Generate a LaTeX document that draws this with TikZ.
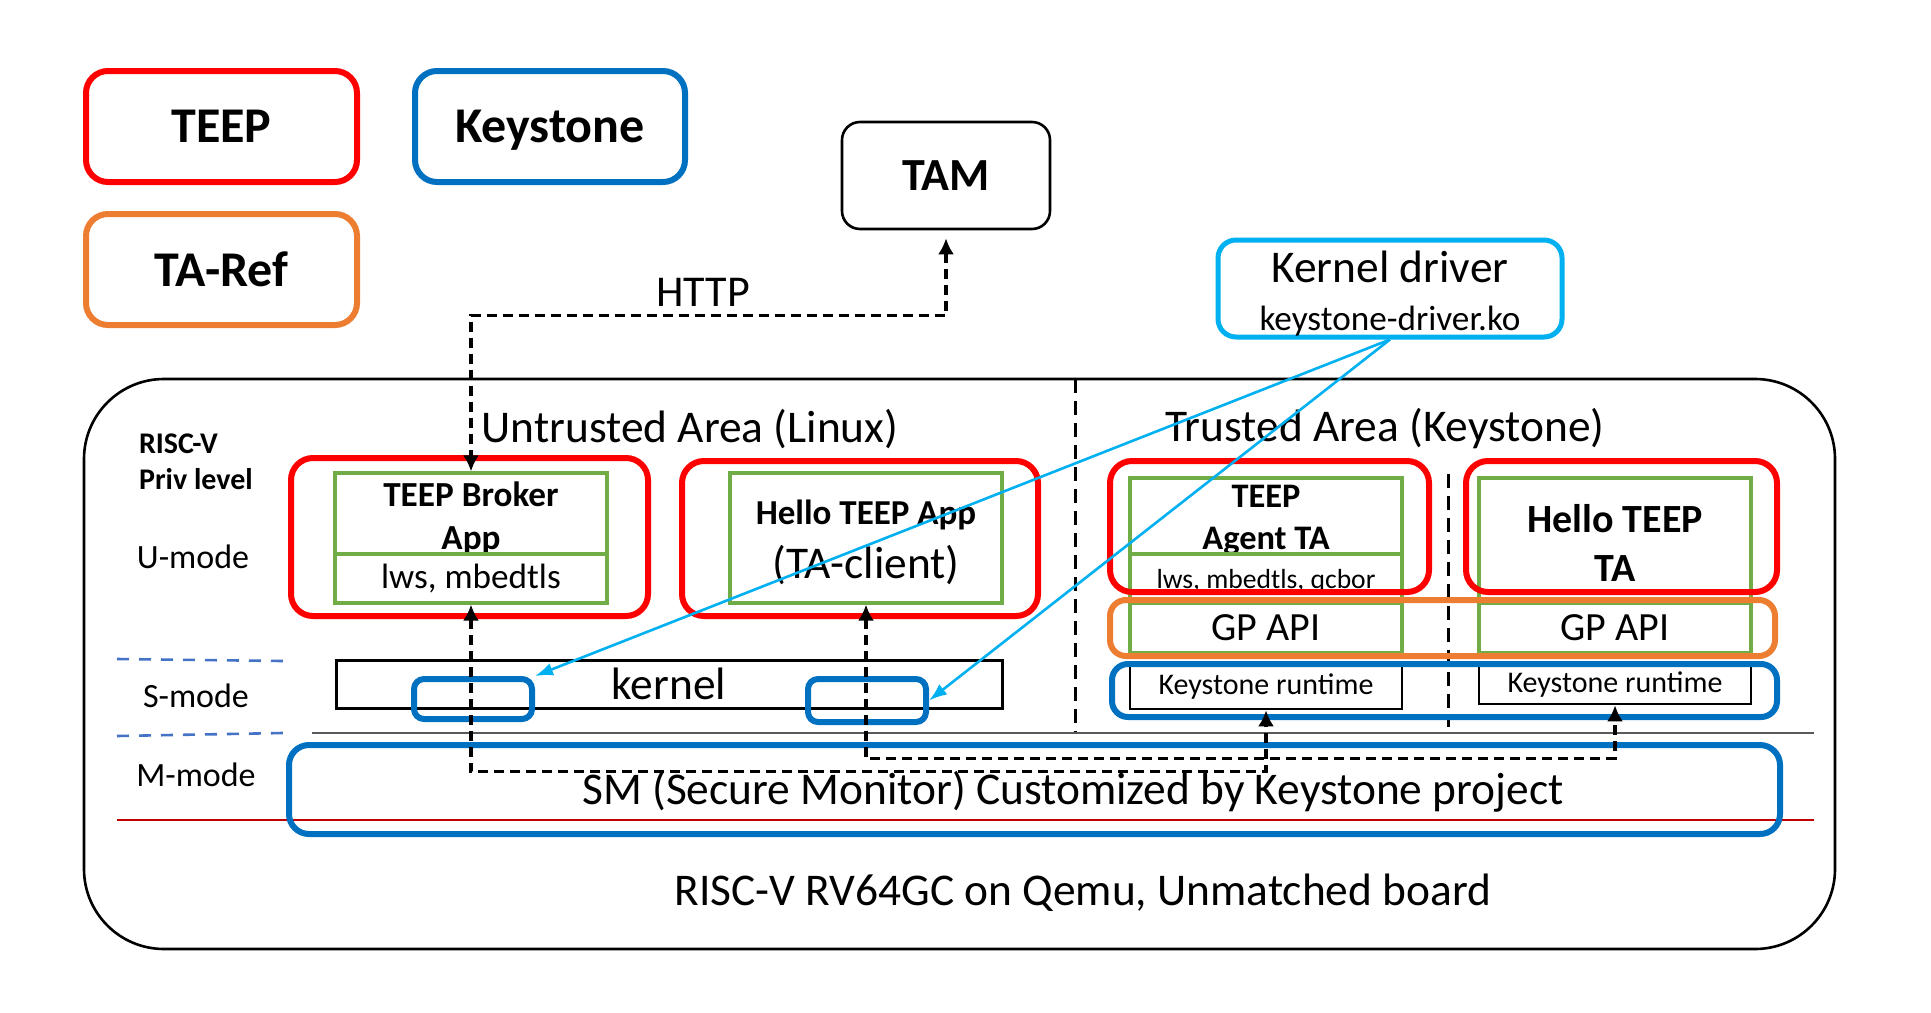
\documentclass[tikz,border=0pt]{standalone}
\usepackage{fontspec}
\setmainfont{Carlito}
\usepackage{tikz}
\usetikzlibrary{arrows.meta, fit}

\definecolor{teepred}{HTML}{FF0000}
\definecolor{ksblue}{HTML}{0070C0}
\definecolor{taorange}{HTML}{ED7D31}
\definecolor{libgreen}{HTML}{70AD47}
\definecolor{drvcyan}{HTML}{00B0F0}
\definecolor{lvlblue}{HTML}{4472C4}
\definecolor{lvlred}{HTML}{C00000}

\tikzset{
	box/.style={draw, inner sep=0pt},
	teepbox/.style={box, draw=teepred, line width=3pt, rounded corners=11pt},
	ksbox/.style={box, draw=ksblue, line width=3pt, rounded corners=8pt},
	refbox/.style={box, draw=taorange, line width=3pt, rounded corners=8pt},
	libbox/.style={box, draw=libgreen, line width=1.6pt},
	blkbox/.style={box, draw=black, line width=1.3pt},
	conn/.style={line width=1.6pt, dash pattern=on 5pt off 3pt, {Latex[length=8pt,width=8pt]}-{Latex[length=8pt,width=8pt]}},
	drvline/.style={drvcyan, line width=1.3pt, -{Latex[length=9pt,width=6.5pt]}},
	divider/.style={line width=1.5pt, dash pattern=on 7pt off 4pt},
	flegend/.style={font=\fontsize{25}{30}\selectfont\bfseries},
	fbig/.style={font=\fontsize{22.7}{27}\selectfont},
	fmid/.style={font=\fontsize{17.6}{22}\selectfont},
	fsmall/.style={font=\fontsize{15}{18}\selectfont},
	fmode/.style={font=\fontsize{17}{21}\selectfont},
}

\begin{document}
\begin{tikzpicture}[x=0.5pt, y=-0.5pt, font=\fontsize{22.7}{27}\selectfont]
	\useasboundingbox (0,0) rectangle (1931,1012);

	% legend
	\node[teepbox, fit={(86,71) (357,182)}, label={[flegend]center:TEEP}] (legteep) {};
	\node[ksbox, rounded corners=11pt, fit={(415,71) (685,182)}, label={[flegend, yshift=-2pt]center:Keystone}] (legks) {};
	\node[refbox, rounded corners=11pt, fit={(86,214) (357,325)}, label={[flegend]center:TA-Ref}] (legref) {};

	\node[blkbox, rounded corners=9pt, fit={(842,122) (1050,229)}, label={[font=\fontsize{23}{28}\selectfont\bfseries]center:TAM}] (tam) {};
	\node[box, draw=drvcyan, line width=2.5pt, rounded corners=9pt, fit={(1218,240) (1562,337)},
		label={[fbig, align=center, yshift=-2.5pt]center:{Kernel driver\\[-3pt]{\fontsize{17.6}{22}\selectfont keystone-driver.ko}}}] (kdrv) {};

	% board
	\node[box, line width=1.3pt, rounded corners=40pt, fit={(84,379) (1835,949)}] (board) {};
	\node[fbig] (untrusted) at (690,429) {Untrusted Area (Linux)};
	\node[fbig] (trusted) at (1385,429) {Trusted Area (Keystone)};
	\draw[divider] (1075,379) -- (1075,733);
	\draw[divider] (1448,474) -- (1448,727);

	% privilege levels
	\node[anchor=west, align=left, font=\fontsize{15}{18}\selectfont\bfseries] (priv) at (132,462) {RISC-V\\Priv level};
	\node[fmode] (umode) at (193,557) {U-mode};
	\node[fmode] (smode) at (196,696) {S-mode};
	\node[fmode] (mmode) at (196,775) {M-mode};
	\draw[lvlblue, line width=1.3pt, dash pattern=on 6pt off 5pt] (117,659) -- (283,661);
	\draw[lvlblue, line width=1.3pt, dash pattern=on 6pt off 5pt] (117,736) -- (283,733);
	\draw[gray!70!black, line width=0.6pt] (312,733) -- (1814,733);
	\draw[lvlred, line width=1.2pt] (117,820) -- (1814,820);

	% M-mode
	\node[ksbox, rounded corners=10pt, fit={(289,745) (1780,834)}] (sm) {};
	\node[fbig] (smtext) at (1073,792) {SM (Secure Monitor) Customized by Keystone project};
	\node[fbig] (hw) at (1083,893) {RISC-V RV64GC on Qemu, Unmatched board};

	% S-mode
	\node[blkbox, line width=1.5pt, fit={(336,660) (1002,708)}, label={[fbig]center:kernel}] (kernel) {};
	\node[ksbox, rounded corners=5pt, fit={(414,679) (532,719)}] (kslot1) {};
	\node[ksbox, rounded corners=5pt, fit={(808,679) (926,722)}] (kslot2) {};

	% untrusted apps
	\node[libbox, fit={(335,473) (607,554)}, label={[font=\fontsize{17.6}{21.5}\selectfont\bfseries, align=center, yshift=-2.5pt]center:{TEEP Broker\\App}}] (brokerapp) {};
	\node[libbox, fit={(335,554) (607,603)}, label={[fmid]center:{lws, mbedtls}}] (brokerlib) {};
	\node[teepbox, fit={(291,458) (648,616)}] (broker) {};

	\node[libbox, fit={(730,473) (1002,603)}, label={[fbig, align=center, yshift=-2pt]center:{{\fontsize{17.5}{21.5}\selectfont\bfseries Hello TEEP App}\\(TA-client)}}] (helloapp) {};
	\node[teepbox, fit={(682,461) (1038,616)}] (hello) {};

	% trusted apps
	\node[libbox, fit={(1130,478) (1402,554)}, label={[font=\fontsize{17.2}{21}\selectfont\bfseries, align=center, yshift=-2pt]center:{TEEP\\Agent TA}}] (agentta) {};
	\node[libbox, fit={(1130,554) (1402,600)}, label={[font=\fontsize{13.8}{17}\selectfont, yshift=-2pt]center:{lws, mbedtls, qcbor}}] (agentlib) {};
	\node[teepbox, fit={(1110,461) (1429,592)}] (agent) {};

	\node[libbox, fit={(1479,478) (1751,600)}, label={[font=\fontsize{20}{24.5}\selectfont\bfseries, align=center, yshift=-2pt]center:{Hello TEEP\\TA}}] (hellota) {};
	\node[teepbox, fit={(1466,461) (1777,592)}] (hellotee) {};

	\node[libbox, fit={(1130,603) (1402,653)}, label={[font=\fontsize{20}{24}\selectfont]center:GP API}] (gp1) {};
	\node[libbox, fit={(1479,603) (1751,653)}, label={[font=\fontsize{20}{24}\selectfont]center:GP API}] (gp2) {};
	\node[refbox, fit={(1110,600) (1775,656)}] (taref) {};

	\node[blkbox, fit={(1130,665) (1402,709)}, label={[fsmall]center:Keystone runtime}] (rt1) {};
	\node[blkbox, fit={(1479,665) (1751,704)}, label={[fsmall]center:Keystone runtime}] (rt2) {};
	\node[ksbox, fit={(1112,664) (1777,717)}] (ksrt) {};

	% connections
	\draw[conn] ([yshift=-4pt]tam.south) -- ++(0,77) -| (brokerapp.north);
	\node[font=\fontsize{22}{26}\selectfont] (http) at (703,292) {HTTP};
	\draw[conn] (brokerlib.south) -- ++(0,167) -| (rt1.south);
	\draw[conn] (helloapp.south) -- ++(0,154) -| (rt2.south);

	\draw[drvline] (kdrv.south) -- (kslot1.north east);
	\draw[drvline] (kdrv.south) -- (kslot2.east);
\end{tikzpicture}
\end{document}
